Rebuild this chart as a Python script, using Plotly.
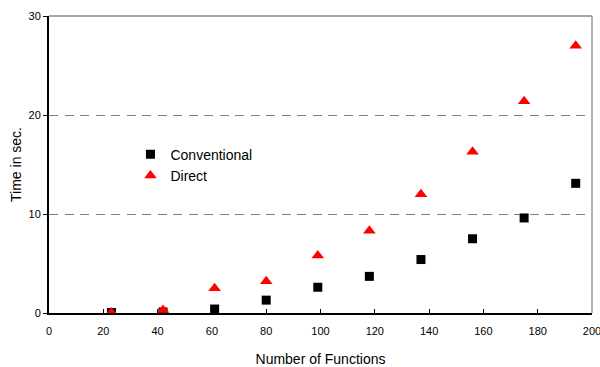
import plotly.graph_objects as go

functions = [23, 42, 61, 80, 99, 118, 137, 156, 175, 194]
conventional = [0.05, 0.1, 0.4, 1.3, 2.6, 3.7, 5.4, 7.5, 9.6, 13.1]
direct = [0.05, 0.3, 2.5, 3.2, 5.8, 8.3, 12.0, 16.3, 21.4, 27.0]

FONT = "Liberation Sans"

fig = go.Figure()
fig.add_trace(go.Scatter(x=functions, y=conventional, mode="markers", name="Conventional",
                         marker=dict(symbol="square", size=9, color="black")))
fig.add_trace(go.Scatter(x=functions, y=direct, mode="markers", name="Direct",
                         marker=dict(symbol="triangle-up", size=11, color="#ff0000")))

fig.update_layout(
    width=600, height=367,
    margin=dict(l=49, r=8, t=16, b=54),
    plot_bgcolor="white", paper_bgcolor="white",
    font=dict(family=FONT, size=12, color="black"),
    showlegend=True,
    legend=dict(x=0.15, y=0.587, xanchor="left", yanchor="top",
                bgcolor="rgba(0,0,0,0)", font=dict(size=14), tracegroupgap=0),
    xaxis=dict(range=[0, 200], tick0=0, dtick=20, ticks="inside", ticklen=4,
               tickcolor="black", showline=True, linecolor="black", linewidth=2,
               mirror=False, showgrid=False, zeroline=False, automargin=False,
               tickfont=dict(size=11), ticklabeloverflow="allow",
               ticklabelstandoff=7,
               title=dict(text="Number of Functions", standoff=20)),
    yaxis=dict(range=[0, 30], tick0=0, dtick=10, ticks="outside", ticklen=4,
               tickcolor="black", showline=True, linecolor="black", linewidth=2,
               showgrid=True, gridcolor="#808080", griddash="9px,6.5px", gridwidth=1,
               zeroline=False, automargin=False, tickfont=dict(size=11),
               ticklabeloverflow="allow",
               title=dict(text="Time in sec.", standoff=4)),
)
# gray top/right frame
fig.add_shape(type="line", xref="paper", yref="paper", x0=0, x1=1, y0=1, y1=1,
              line=dict(color="#888888", width=1.5))
fig.add_shape(type="line", xref="paper", yref="paper", x0=1, x1=1, y0=0, y1=1,
              line=dict(color="#999999", width=1.5))

fig.write_html("out.html", config={"displayModeBar": False},
               post_script="document.body.style.margin='0';")
